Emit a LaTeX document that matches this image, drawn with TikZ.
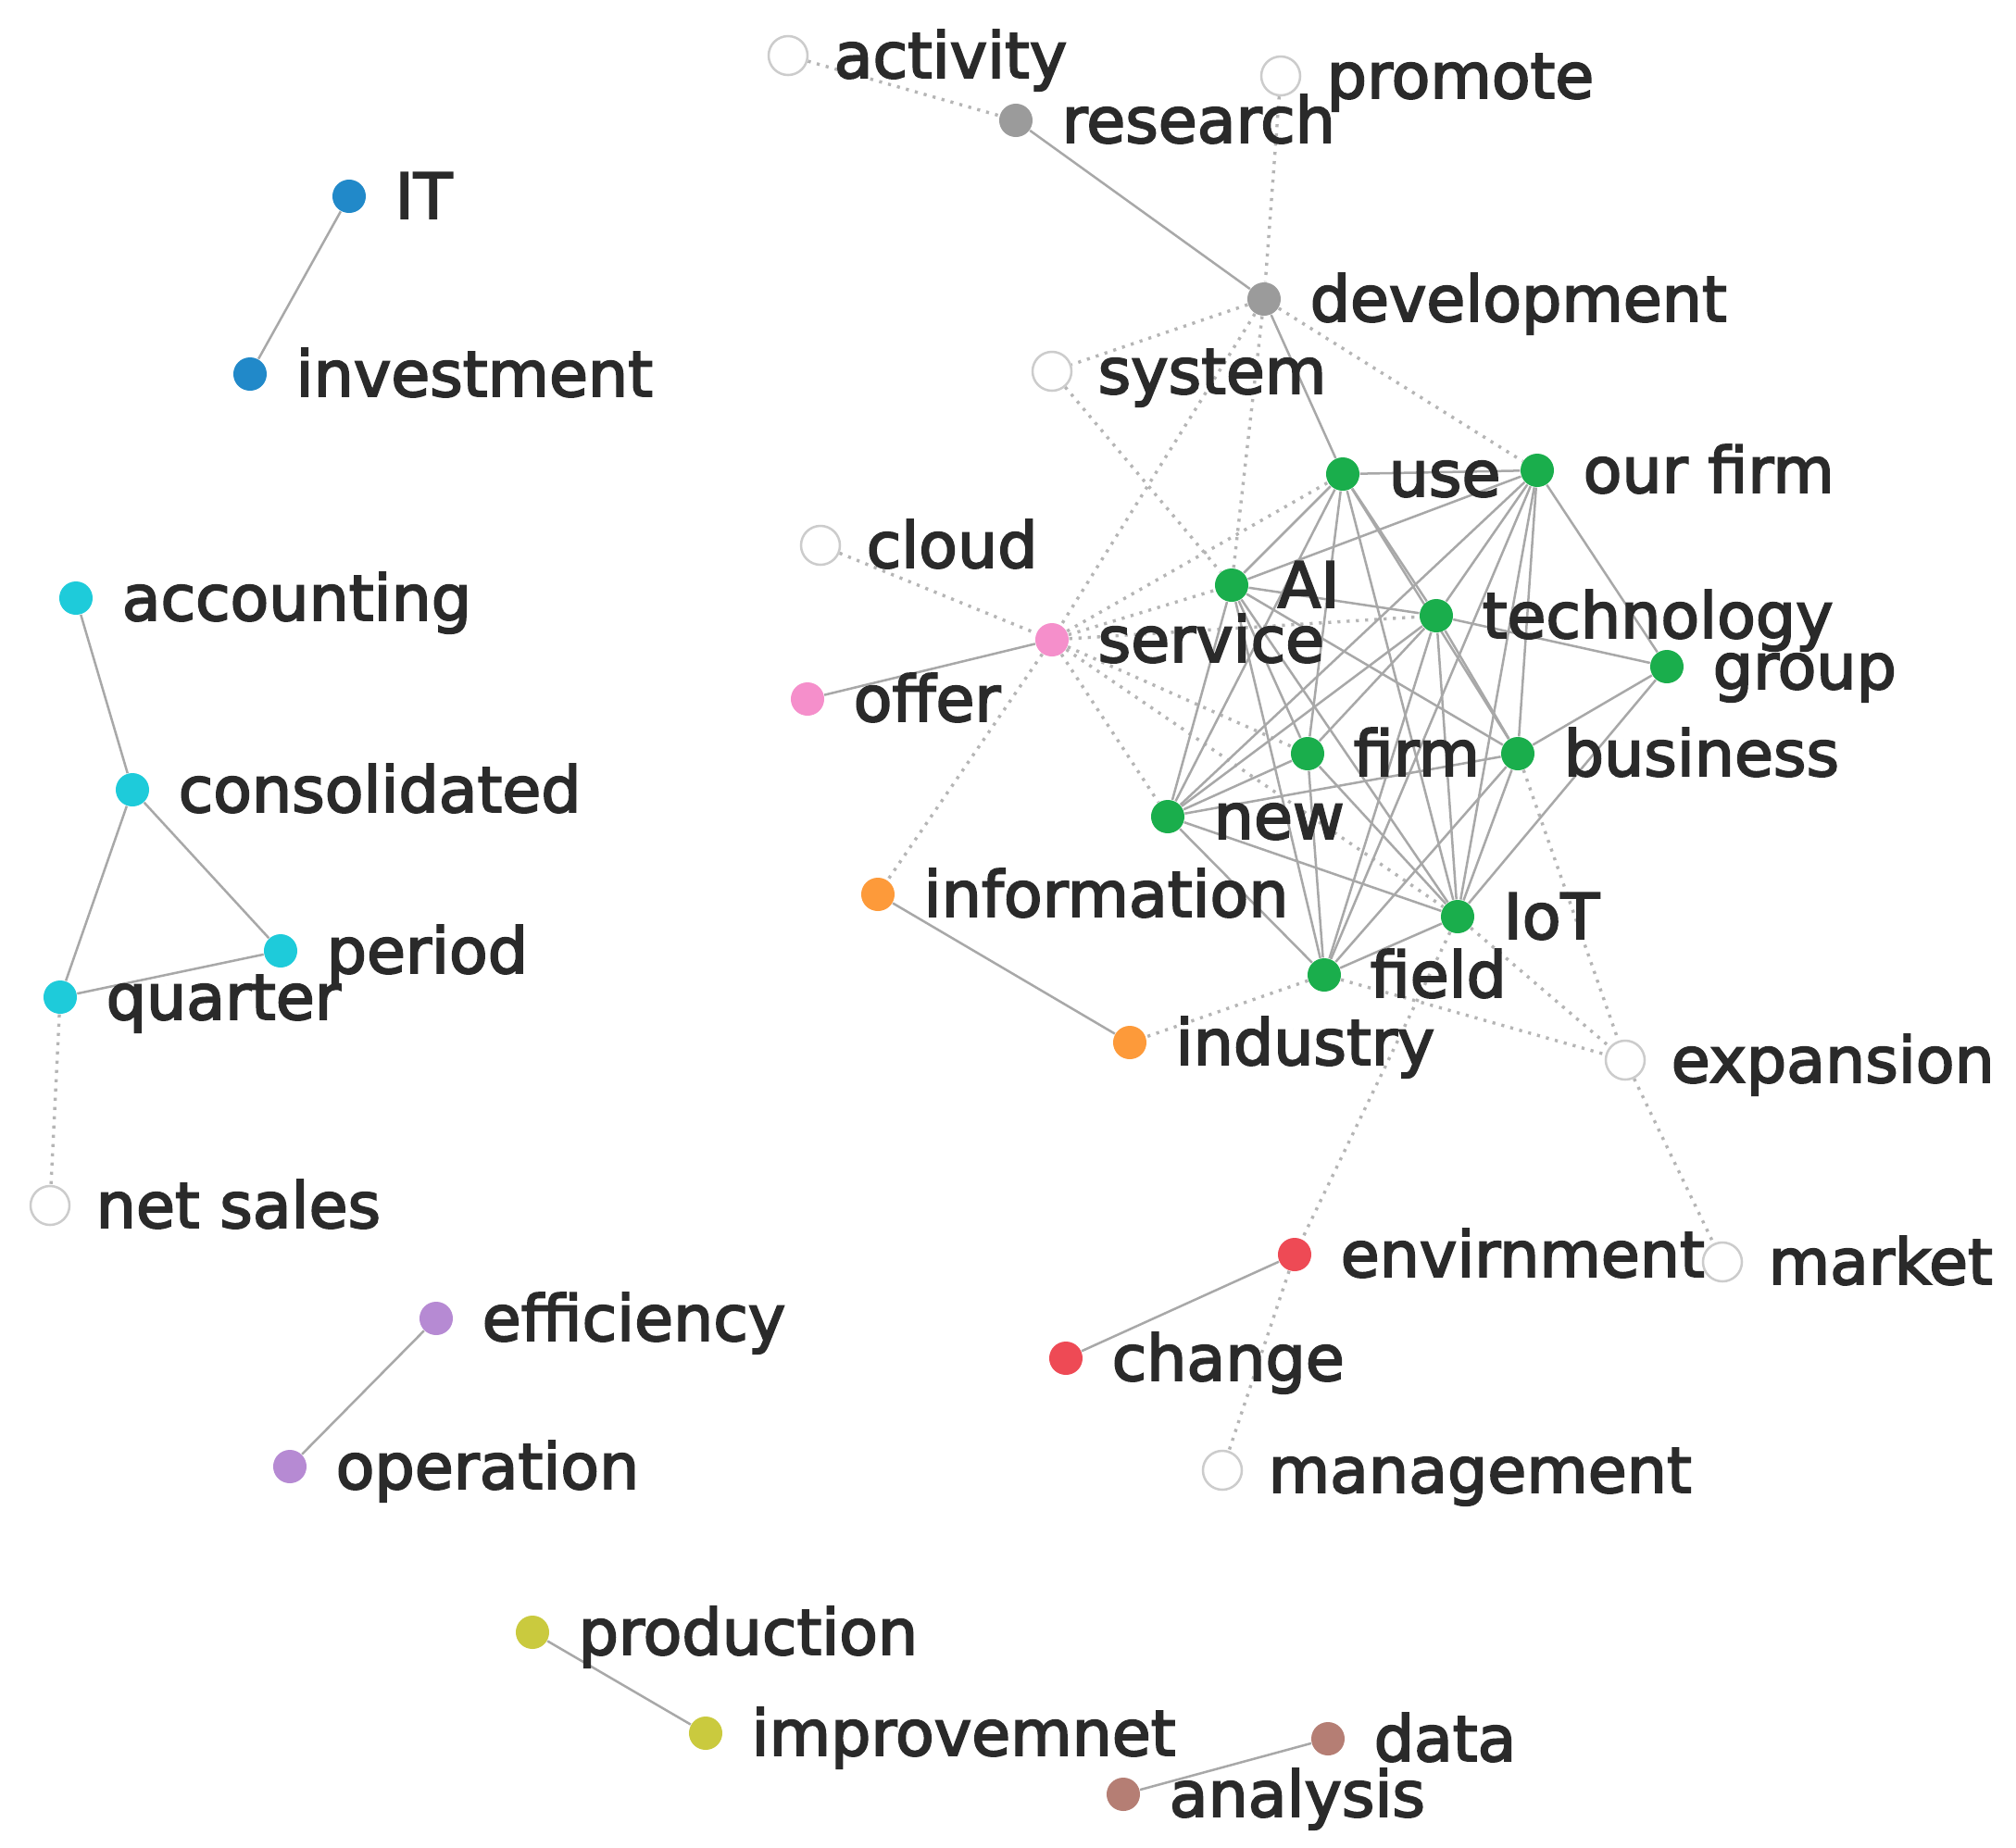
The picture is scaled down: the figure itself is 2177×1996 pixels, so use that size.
\documentclass[tikz,border=0pt]{standalone}
\usepackage{fontspec}
\setmainfont{DejaVu Sans}
\newfontfamily\labfont{DejaVu Sans}
\usetikzlibrary{backgrounds}

\definecolor{cgray}{HTML}{9B9B9B}
\definecolor{cblue}{HTML}{2189C9}
\definecolor{ccyan}{HTML}{1ECBDA}
\definecolor{cgreen}{HTML}{1AAE4C}
\definecolor{cpink}{HTML}{F58FCB}
\definecolor{corange}{HTML}{FD9A3A}
\definecolor{cred}{HTML}{EE4A55}
\definecolor{cpurple}{HTML}{B68AD3}
\definecolor{colive}{HTML}{CACA3E}
\definecolor{cbrown}{HTML}{B57E74}
\definecolor{ctext}{HTML}{2A2A2A}
\definecolor{cedge}{HTML}{A8A8A8}
\definecolor{cdot}{HTML}{B5B5B5}
\definecolor{cring}{HTML}{CCCCCC}

\tikzset{
  dot/.style={circle, inner sep=0pt, minimum size=0.36cm, draw=none},
  ring/.style={circle, inner sep=0pt, minimum size=0.42cm, draw=cring, line width=0.025cm, fill=white},
  lab/.style={anchor=base west, inner sep=0pt, text=ctext, font=\labfont\fontsize{19.4}{23}\selectfont},
  link/.style={draw=cedge, line width=0.025cm},
  dotlink/.style={draw=cdot, line width=0.034cm, dash pattern=on 0.032cm off 0.068cm}
}

\newcommand\heavy[1]{\special{pdf:code 2 Tr 0.55 w}#1\special{pdf:code 0 Tr}}
\newcommand\kw[5]{%
  \node[#1] (#2) at (#3,#4) {};
  \node[lab] (#2-t) at (#3+49,#4+24) {\heavy{#5}};}

\begin{document}
\begin{tikzpicture}[x=0.01cm,y=-0.01cm]
\useasboundingbox (0,0) rectangle (2177,1996);

% top grey cluster
\kw{ring}{activity}{851}{60}{activity}
\kw{ring}{promote}{1383}{82}{promote}
\kw{dot,fill=cgray}{research}{1097}{130}{research}
\kw{dot,fill=cgray}{development}{1365}{323}{development}
\kw{ring}{system}{1136}{401}{system}

% blue
\kw{dot,fill=cblue}{IT}{377}{212}{IT}
\kw{dot,fill=cblue}{investment}{270}{404}{investment}

% green cluster
\kw{dot,fill=cgreen}{use}{1450}{512}{use}
\kw{dot,fill=cgreen}{ourfirm}{1660}{508}{our firm}
\kw{dot,fill=cgreen}{AI}{1330}{632}{AI}
\kw{dot,fill=cgreen}{technology}{1551}{665}{technology}
\kw{dot,fill=cgreen}{group}{1800}{720}{group}
\kw{dot,fill=cgreen}{firm}{1412}{814}{firm}
\kw{dot,fill=cgreen}{business}{1639}{814}{business}
\kw{dot,fill=cgreen}{new}{1261}{882}{new}
\kw{dot,fill=cgreen}{IoT}{1574}{990}{IoT}
\kw{dot,fill=cgreen}{field}{1430}{1053}{field}

% pink / orange
\kw{ring}{cloud}{886}{589}{cloud}
\kw{dot,fill=cpink}{service}{1136}{691}{service}
\kw{dot,fill=cpink}{offer}{872}{755}{offer}
\kw{dot,fill=corange}{information}{948}{966}{information}
\kw{dot,fill=corange}{industry}{1220}{1126}{industry}
\kw{ring}{expansion}{1755}{1145}{expansion}

% cyan
\kw{dot,fill=ccyan}{accounting}{82}{646}{accounting}
\kw{dot,fill=ccyan}{consolidated}{143}{853}{consolidated}
\kw{dot,fill=ccyan}{period}{303}{1027}{period}
\kw{dot,fill=ccyan}{quarter}{65}{1077}{quarter}
\kw{ring}{netsales}{54}{1302}{net sales}

% red
\kw{dot,fill=cred}{envirnment}{1398}{1355}{envirnment}
\kw{ring}{market}{1860}{1363}{market}
\kw{dot,fill=cred}{change}{1151}{1467}{change}
\kw{ring}{management}{1320}{1588}{management}

% purple / olive / brown
\kw{dot,fill=cpurple}{efficiency}{471}{1424}{efficiency}
\kw{dot,fill=cpurple}{operation}{313}{1584}{operation}
\kw{dot,fill=colive}{production}{575}{1763}{production}
\kw{dot,fill=colive}{improvemnet}{762}{1872}{improvemnet}
\kw{dot,fill=cbrown}{data}{1434}{1878}{data}
\kw{dot,fill=cbrown}{analysis}{1213}{1938}{analysis}

\begin{scope}[on background layer]
  \fill[white] (0,0) rectangle (2177,1996);
  % dotted connectors
  \foreach \a/\b in {activity/research, promote/development, development/system,
      development/AI, development/ourfirm, development/service, service/information,
      system/AI, cloud/service, service/AI, service/use, service/firm, service/new,
      service/IoT, service/technology, field/industry, field/expansion, IoT/expansion,
      business/expansion, expansion/market, IoT/envirnment, envirnment/management,
      quarter/netsales}
    \draw[dotlink] (\a) -- (\b);
  % solid connectors
  \foreach \a/\b in {research/development, IT/investment, accounting/consolidated,
      consolidated/period, consolidated/quarter, quarter/period, efficiency/operation,
      production/improvemnet, data/analysis, envirnment/change, information/industry,
      offer/service, development/use,
      use/ourfirm, use/AI, use/technology, use/business, use/new, use/IoT, use/firm,
      ourfirm/AI, ourfirm/technology, ourfirm/group, ourfirm/business, ourfirm/new,
      ourfirm/IoT, ourfirm/field,
      AI/technology, AI/firm, AI/business, AI/new, AI/IoT, AI/field,
      technology/group, technology/business, technology/new, technology/IoT,
      technology/field, technology/firm,
      group/business, group/IoT,
      firm/IoT, firm/new, firm/field,
      business/new, business/IoT, business/field,
      new/IoT, new/field, IoT/field}
    \draw[link] (\a) -- (\b);
\end{scope}
\end{tikzpicture}
\end{document}
